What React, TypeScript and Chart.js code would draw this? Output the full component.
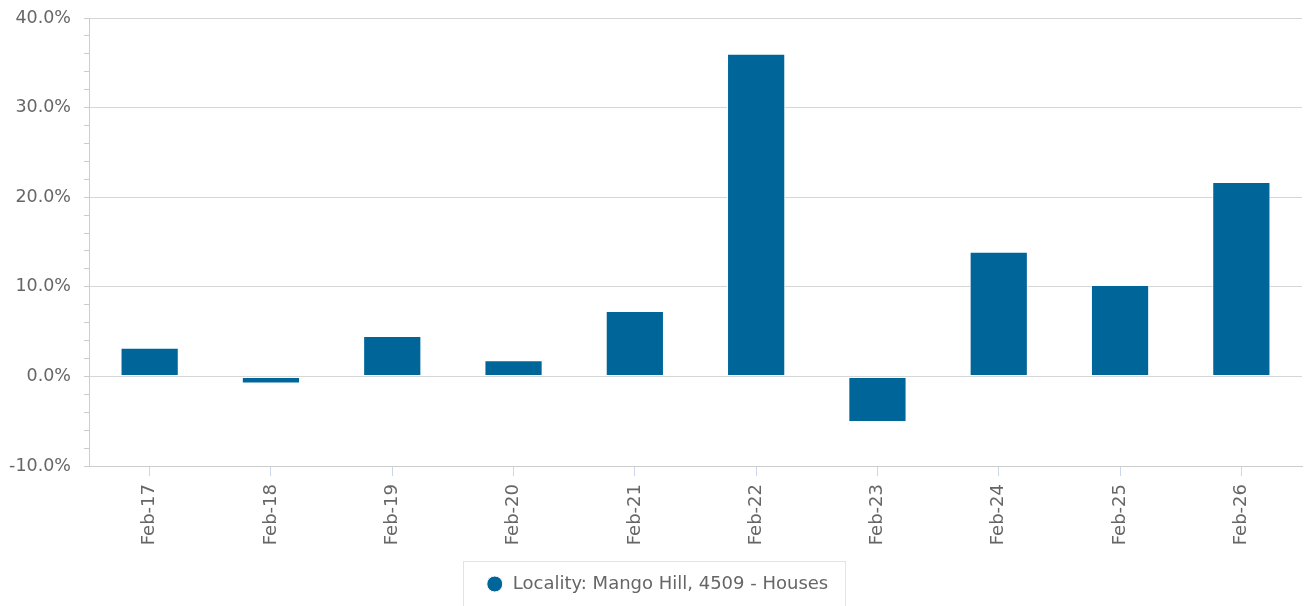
import { useEffect, useRef } from 'react';
import { Chart, registerables } from 'chart.js';

Chart.register(...registerables);

const categories = ['Feb-17', 'Feb-18', 'Feb-19', 'Feb-20', 'Feb-21', 'Feb-22', 'Feb-23', 'Feb-24', 'Feb-25', 'Feb-26'];
const values = [3.2, -0.8, 4.5, 1.8, 7.3, 36.0, -5.1, 13.9, 10.2, 21.7];
const seriesLabel = 'Locality: Mango Hill, 4509 - Houses';
const yMin = -10;
const yMax = 40;
const yMinorStep = 2;
const yMajorStep = 10;

const FONT = '"DejaVu Sans", Verdana, sans-serif';

const legendBox = {
  id: 'legendBox',
  afterLayout(chart: any) {
    const lg = chart.legend;
    if (lg) {
      lg.left += 6;
      lg.right += 6;
    }
  },
  afterDraw(chart: any) {
    const lg = chart.legend;
    if (!lg || !lg.legendHitBoxes || !lg.legendHitBoxes.length) return;
    const hb = lg.legendHitBoxes[0];
    const ctx = chart.ctx;
    ctx.save();
    ctx.strokeStyle = '#e3e3e3';
    ctx.lineWidth = 1;
    const cy = hb.top + hb.height / 2;
    const x = Math.round(hb.left - 23) + 0.5;
    const y = Math.round(cy - 23) + 0.5;
    ctx.strokeRect(x, y, Math.round(hb.width + 40), 60);
    ctx.restore();
  },
};

const isMajor = (v: number) => Math.abs(v % yMajorStep) < 1e-6;

export default function App() {
  const ref = useRef<HTMLCanvasElement | null>(null);

  useEffect(() => {
    if (!ref.current) return;
    const chart = new Chart(ref.current, {
      type: 'bar',
      data: {
        labels: categories,
        datasets: [
          {
            label: seriesLabel,
            data: values,
            backgroundColor: '#006699',
            borderColor: '#ffffff',
            borderWidth: 1,
            borderSkipped: false,
            barPercentage: 0.48,
            categoryPercentage: 1,
          },
        ],
      },
      options: {
        animation: false,
        responsive: true,
        maintainAspectRatio: false,
        devicePixelRatio: 1,
        layout: { padding: { top: 18, right: 4, left: 0, bottom: 3 } },
        plugins: {
          tooltip: { enabled: false },
          legend: {
            position: 'bottom',
            labels: {
              usePointStyle: true,
              pointStyle: 'circle',
              boxWidth: 18,
              boxHeight: 11.3,
              padding: 16,
              color: '#666666',
              font: { family: FONT, size: 18 },
            },
          },
        },
        scales: {
          x: {
            afterFit(scale: any) {
              scale.height = 93;
            },
            grid: {
              offset: false,
              drawOnChartArea: false,
              drawTicks: true,
              tickLength: 10,
              tickColor: '#ccd6eb',
            },
            border: { color: '#cccccc' },
            ticks: {
              minRotation: 90,
              maxRotation: 90,
              autoSkip: false,
              padding: 8,
              color: '#666666',
              font: { family: FONT, size: 18 },
            },
          },
          y: {
            min: yMin,
            max: yMax,
            afterFit(scale: any) {
              scale.width = 89;
              scale.paddingTop = 0;
              scale.paddingBottom = 0;
            },
            grid: {
              color: (ctx: any) => (ctx.tick && isMajor(ctx.tick.value) ? '#d6d6d6' : 'rgba(0,0,0,0)'),
              tickColor: '#cccccc',
              tickLength: 5,
            },
            border: { color: '#cccccc' },
            ticks: {
              stepSize: yMinorStep,
              autoSkip: false,
              padding: 13,
              color: '#666666',
              font: { family: FONT, size: 17.5 },
              callback: (v: any) => (isMajor(Number(v)) ? Number(v).toFixed(1) + '%' : ''),
            },
          },
        },
      },
      plugins: [legendBox],
    });
    return () => chart.destroy();
  }, []);

  return (
    <div style={{ position: 'fixed', left: 0, top: 0, width: 1306, height: 606, background: '#ffffff' }}>
      <canvas ref={ref} />
    </div>
  );
}
